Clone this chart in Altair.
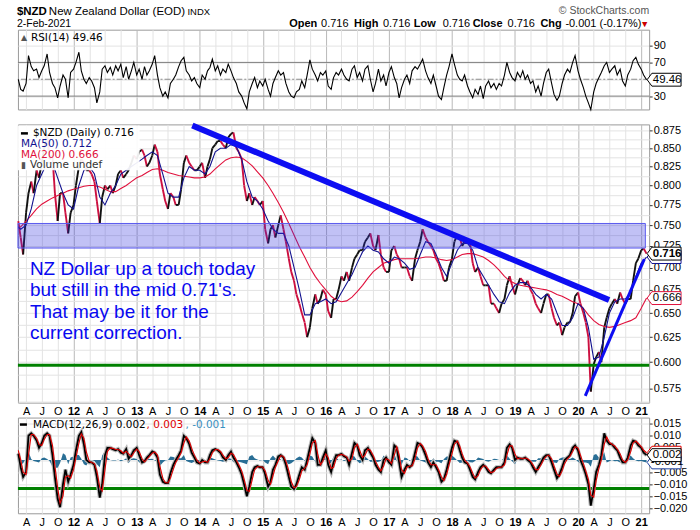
import altair as alt
import numpy as np
import pandas as pd

# ---------------- data ----------------
# $NZD close, semi-monthly from 15-Feb-2011 to 1-Feb-2021
PRICE_2011 = [0.755, 0.735, 0.715, 0.765, 0.79, 0.805, 0.79, 0.82, 0.81, 0.83, 0.85,
              0.87, 0.835, 0.84, 0.79, 0.755, 0.79, 0.79, 0.765, 0.74, 0.765]
PRICE_2012 = [0.775, 0.80, 0.825, 0.835, 0.83, 0.82, 0.82, 0.815, 0.805, 0.78, 0.752, 0.785,
              0.80, 0.795, 0.80, 0.79, 0.80, 0.815, 0.82, 0.81, 0.815, 0.82, 0.83, 0.84]
PRICE_2013 = [0.835, 0.845, 0.848, 0.84, 0.825, 0.83, 0.84, 0.855, 0.845, 0.815, 0.795, 0.78,
              0.77, 0.79, 0.785, 0.775, 0.775, 0.795, 0.83, 0.84, 0.83, 0.825, 0.82, 0.82]
PRICE_2014 = [0.825, 0.83, 0.81, 0.825, 0.835, 0.85, 0.855, 0.86, 0.86, 0.855, 0.85, 0.865,
              0.87, 0.872, 0.85, 0.845, 0.835, 0.80, 0.78, 0.79, 0.775, 0.785, 0.78, 0.775]
PRICE_2015 = [0.78, 0.745, 0.728, 0.745, 0.75, 0.735, 0.75, 0.762, 0.745, 0.73, 0.71, 0.695,
              0.685, 0.67, 0.66, 0.65, 0.64, 0.625, 0.635, 0.655, 0.67, 0.66, 0.665, 0.675]
PRICE_2016 = [0.67, 0.652, 0.645, 0.665, 0.665, 0.675, 0.69, 0.685, 0.695, 0.685, 0.70, 0.71,
              0.715, 0.72, 0.72, 0.73, 0.735, 0.74, 0.725, 0.72, 0.738, 0.715, 0.70, 0.695]
PRICE_2017 = [0.695, 0.72, 0.725, 0.715, 0.71, 0.70, 0.70, 0.70, 0.69, 0.685, 0.71, 0.72,
              0.73, 0.745, 0.735, 0.73, 0.725, 0.72, 0.71, 0.705, 0.695, 0.685, 0.685, 0.70]
PRICE_2018 = [0.71, 0.73, 0.738, 0.735, 0.725, 0.73, 0.728, 0.73, 0.705, 0.695, 0.70, 0.69,
              0.68, 0.68, 0.68, 0.66, 0.66, 0.655, 0.65, 0.66, 0.665, 0.68, 0.69, 0.68]
PRICE_2019 = [0.67, 0.68, 0.688, 0.685, 0.68, 0.685, 0.675, 0.67, 0.66, 0.655, 0.65, 0.66,
              0.67, 0.67, 0.655, 0.645, 0.637, 0.64, 0.627, 0.635, 0.64, 0.64, 0.65, 0.668]
PRICE_2020 = [0.672, 0.66, 0.65, 0.64, 0.625, 0.572, 0.598, 0.605, 0.61, 0.60, 0.635, 0.645,
              0.655, 0.66, 0.665, 0.66, 0.672, 0.665, 0.66, 0.665, 0.665, 0.685, 0.705, 0.71]
PRICE_2021 = [0.72, 0.722, 0.716]
PRICE = (PRICE_2011 + PRICE_2012 + PRICE_2013 + PRICE_2014 + PRICE_2015 + PRICE_2016
         + PRICE_2017 + PRICE_2018 + PRICE_2019 + PRICE_2020 + PRICE_2021)

# moving averages, monthly (1st of month) Feb-2011 .. Feb-2021
MA50 = [0.75, 0.745, 0.75, 0.77, 0.80, 0.815, 0.83, 0.83, 0.81, 0.79, 0.775,
        0.77, 0.80, 0.82, 0.825, 0.815, 0.785, 0.775, 0.79, 0.80, 0.815, 0.82, 0.825,
        0.83, 0.835, 0.84, 0.845, 0.84, 0.815, 0.79, 0.785, 0.785, 0.81, 0.825, 0.82,
        0.82, 0.815, 0.825, 0.845, 0.85, 0.85, 0.855, 0.852, 0.835, 0.805, 0.785, 0.78,
        0.77, 0.755, 0.745, 0.74, 0.74, 0.725, 0.70, 0.675, 0.648, 0.648, 0.66, 0.662,
        0.665, 0.66, 0.662, 0.672, 0.682, 0.692, 0.705, 0.718, 0.725, 0.72, 0.718, 0.71,
        0.705, 0.712, 0.71, 0.705, 0.698, 0.70, 0.715, 0.73, 0.728, 0.715, 0.70, 0.69,
        0.705, 0.72, 0.728, 0.728, 0.72, 0.70, 0.69, 0.68, 0.67, 0.662, 0.66, 0.672,
        0.68, 0.683, 0.683, 0.678, 0.67, 0.665, 0.67, 0.665, 0.65, 0.637, 0.637, 0.645,
        0.66, 0.655, 0.635, 0.603, 0.605, 0.625, 0.65, 0.662, 0.665, 0.665, 0.672, 0.69,
        0.705, 0.712]
MA200 = [0.745, 0.748, 0.755, 0.762, 0.77, 0.776, 0.78, 0.784, 0.787, 0.79, 0.793,
         0.795, 0.797, 0.799, 0.80, 0.80, 0.798, 0.795, 0.792, 0.792, 0.796, 0.80, 0.805,
         0.81, 0.813, 0.817, 0.821, 0.822, 0.82, 0.817, 0.815, 0.813, 0.812, 0.811, 0.81,
         0.81, 0.811, 0.815, 0.822, 0.828, 0.834, 0.837, 0.838, 0.837, 0.832, 0.826, 0.818,
         0.81, 0.80, 0.79, 0.778, 0.766, 0.752, 0.738, 0.724, 0.712, 0.70, 0.69, 0.682,
         0.675, 0.668, 0.664, 0.662, 0.663, 0.667, 0.673, 0.68, 0.688, 0.695, 0.70, 0.705,
         0.707, 0.709, 0.71, 0.71, 0.71, 0.71, 0.711, 0.712, 0.712, 0.711, 0.709, 0.708,
         0.709, 0.712, 0.715, 0.716, 0.716, 0.714, 0.712, 0.708, 0.703, 0.697, 0.69, 0.685,
         0.682, 0.68, 0.679, 0.678, 0.677, 0.676, 0.675, 0.673, 0.67, 0.668, 0.665, 0.662,
         0.66, 0.655, 0.648, 0.642, 0.638, 0.636, 0.635, 0.636, 0.638, 0.64, 0.642, 0.645,
         0.655, 0.666]

# RSI(14), semi-monthly
RSI = [50, 38, 36, 45, 78, 65, 60, 62, 52, 60, 66, 80, 58, 45, 40, 28, 42, 55, 50, 28,
       58, 62, 70, 82, 60, 50, 45, 52, 48, 40, 22, 35, 62, 66, 58, 64, 55, 66, 60, 68,
       52, 65, 50, 60, 70, 55, 62, 50, 65, 55, 60, 68, 78, 55, 40, 30, 35, 28, 45, 50,
       55, 65, 72, 76, 60, 55, 48, 52, 45, 40, 55, 50, 60, 64, 74, 60, 66, 55, 62, 58,
       68, 60, 52, 45, 35, 30, 22, 15, 35, 45, 52, 40, 48, 42, 50, 38, 30, 45, 52, 60,
       55, 58, 45, 35, 30, 28, 35, 38, 48, 40, 55, 73, 62, 55, 48, 58, 55, 60, 42, 38,
       52, 58, 55, 62, 55, 50, 48, 62, 66, 52, 58, 48, 62, 66, 50, 35, 45, 62, 48, 55,
       42, 58, 65, 52, 45, 28, 40, 50, 55, 45, 60, 65, 62, 68, 74, 60, 52, 45, 55, 42,
       30, 26, 40, 55, 65, 80, 68, 55, 50, 48, 55, 42, 35, 28, 38, 32, 42, 27, 42, 48,
       40, 45, 38, 45, 42, 55, 70, 58, 52, 48, 58, 52, 60, 50, 55, 45, 48, 35, 42, 30,
       45, 58, 62, 45, 32, 25, 30, 45, 55, 62, 58, 70, 78, 60, 50, 40, 30, 22, 14, 35,
       45, 52, 58, 66, 70, 58, 62, 66, 55, 62, 48, 42, 55, 62, 72, 76, 68, 62, 55, 49.46]

# MACD(12,26,9): line, signal, histogram, semi-monthly
MACD = [0.0026, -0.003, -0.007, -0.005, 0.010, 0.011, 0.010, 0.008, 0.005, 0.007,
        0.010, 0.011, 0.010, 0.002, -0.007, -0.016, -0.0195, -0.010, -0.004, -0.009,
        -0.006, -0.002, 0.004, 0.010, 0.0115, 0.0065, 0.000, -0.001, -0.001, -0.002,
        -0.007, -0.0155, -0.010, 0.002, 0.005, 0.005, 0.0045, 0.004, 0.0045, 0.003,
        0.0026, 0.0045, 0.0005, 0.002, 0.004, 0.005, 0.002, -0.001, -0.0005, 0.001,
        0.002, 0.0035, 0.003, 0.001, -0.006, -0.009, -0.0095, -0.0095, -0.0055, -0.002,
        0.000, 0.002, 0.004, 0.010, 0.009, 0.0065, 0.003, 0.001, -0.001, -0.0015,
        0.000, -0.001, -0.001, 0.002, 0.004, 0.0045, 0.004, 0.003, 0.001, 0.000,
        0.002, 0.0035, 0.001, -0.001, -0.003, -0.006, -0.010, -0.015, -0.011, -0.005,
        -0.003, -0.0025, -0.003, -0.003, -0.006, -0.011, -0.009, -0.004, -0.002, 0.0015,
        0.002, 0.001, -0.002, -0.007, -0.011, -0.012, -0.010, -0.006, -0.003, -0.004,
        0.000, 0.005, 0.009, 0.007, -0.002, -0.002, 0.001, 0.004, -0.002, -0.005,
        -0.001, 0.002, 0.002, 0.0025, 0.0015, 0.001, -0.002, 0.003, 0.007, 0.006,
        0.002, 0.000, 0.004, 0.005, 0.003, 0.001, -0.002, -0.004, -0.005, 0.000,
        0.001, -0.001, -0.002, 0.006, 0.005, -0.001, -0.007, -0.004, -0.002, -0.003,
        -0.002, 0.003, 0.007, 0.0065, 0.005, 0.002, -0.001, -0.003, -0.001, -0.003,
        -0.005, -0.009, -0.008, -0.004, 0.000, 0.005, 0.008, 0.0075, 0.004, 0.001,
        -0.001, -0.0015, -0.004, -0.007, -0.008, -0.005, -0.003, -0.002, -0.003, -0.005,
        -0.0055, -0.004, -0.003, -0.003, -0.003, -0.001, 0.005, 0.0065, 0.005, 0.000,
        0.001, 0.0005, 0.0005, 0.001, 0.000, -0.001, -0.003, -0.005, -0.003, -0.001,
        0.001, 0.002, 0.002, -0.001, -0.004, -0.0075, -0.006, -0.003, 0.000, 0.001,
        0.002, 0.005, 0.006, 0.004, 0.000, -0.003, -0.006, -0.010, -0.0188, -0.012,
        -0.005, -0.002, 0.002, 0.011, 0.008, 0.0065, 0.0065, 0.005, 0.004, 0.001,
        -0.001, -0.001, 0.001, 0.006, 0.008, 0.0075, 0.006, 0.005, 0.003, 0.002]
SIGNAL = [0.004, 0.000, -0.005, -0.006, 0.002, 0.0105, 0.0105, 0.009, 0.0065, 0.006,
          0.0085, 0.0105, 0.0105, 0.006, -0.0025, -0.0115, -0.0178, -0.0148, -0.007, -0.0065,
          -0.0075, -0.004, 0.001, 0.007, 0.0108, 0.009, 0.0033, -0.0005, -0.001, -0.0015,
          -0.0045, -0.0113, -0.0128, -0.004, 0.0035, 0.005, 0.0048, 0.0043, 0.0043, 0.0038,
          0.0028, 0.0036, 0.0025, 0.0013, 0.003, 0.0045, 0.0035, 0.0005, -0.0008, 0.0003,
          0.0015, 0.0028, 0.0033, 0.002, -0.0025, -0.0075, -0.0093, -0.0095, -0.0075, -0.0038,
          -0.001, 0.001, 0.003, 0.007, 0.0095, 0.0078, 0.0048, 0.002, 0.000, -0.0013,
          -0.0008, -0.0005, -0.001, 0.0005, 0.003, 0.0043, 0.0043, 0.0035, 0.002, 0.0005,
          0.001, 0.0028, 0.0023, 0.000, -0.002, -0.0045, -0.008, -0.0125, -0.013, -0.008,
          -0.004, -0.0028, -0.0028, -0.003, -0.0045, -0.0085, -0.010, -0.0065, -0.003, -0.0003,
          0.0018, 0.0015, -0.0005, -0.0045, -0.009, -0.0115, -0.011, -0.008, -0.0045, -0.0035,
          -0.002, 0.0025, 0.007, 0.008, 0.0025, -0.002, -0.0005, 0.0025, 0.001, -0.0035,
          -0.003, 0.0005, 0.002, 0.0023, 0.002, 0.0013, -0.0005, 0.0005, 0.005, 0.0065,
          0.004, 0.001, 0.002, 0.0045, 0.004, 0.002, -0.0005, -0.003, -0.0045, -0.0025,
          0.0005, 0.000, -0.0015, 0.002, 0.0055, 0.002, -0.004, -0.0055, -0.003, -0.0025,
          -0.0025, 0.0005, 0.005, 0.0068, 0.0058, 0.0035, 0.0005, -0.002, -0.002, -0.002,
          -0.004, -0.007, -0.0085, -0.006, -0.002, 0.0025, 0.0065, 0.0078, 0.0058, 0.0025,
          0.000, -0.0013, -0.0028, -0.0055, -0.0075, -0.0065, -0.004, -0.0025, -0.0025, -0.004,
          -0.0053, -0.0048, -0.0035, -0.003, -0.003, -0.002, 0.002, 0.0058, 0.0058, 0.0025,
          0.0005, 0.0008, 0.0005, 0.0008, 0.0005, -0.0005, -0.002, -0.004, -0.004, -0.002,
          0.000, 0.0015, 0.002, 0.0005, -0.0025, -0.0058, -0.0068, -0.0045, -0.0015, 0.0005,
          0.0015, 0.0035, 0.0055, 0.005, 0.002, -0.0015, -0.0045, -0.008, -0.0144, -0.0154,
          -0.0085, -0.0035, 0.000, 0.0065, 0.0095, 0.0073, 0.0065, 0.0058, 0.0045, 0.0025,
          0.000, -0.001, 0.000, 0.0035, 0.007, 0.0078, 0.0068, 0.0055, 0.004, 0.003]
HIST = [-0.001, -0.002, -0.0014, 0.0007, 0.0035, 0.0004, -0.0004, -0.0007, -0.001, 0.0007,
        0.001, 0.0004, -0.0004, -0.0028, -0.0032, -0.0032, -0.0012, 0.0028, 0.0021, -0.0018,
        0.001, 0.0014, 0.0021, 0.0021, 0.0005, -0.0018, -0.0023, -0.0004, 0.0, -0.0004,
        -0.0018, -0.003, 0.0019, 0.0035, 0.001, 0.0, -0.0002, -0.0002, 0.0002, -0.0005,
        -0.0001, 0.0007, -0.0014, 0.0005, 0.0007, 0.0004, -0.001, -0.001, 0.0002, 0.0005,
        0.0004, 0.0005, -0.0002, -0.0007, -0.0025, -0.001, -0.0002, 0.0, 0.0014, 0.0012,
        0.0007, 0.0007, 0.0007, 0.0021, -0.0004, -0.0009, -0.0012, -0.0007, -0.0007, -0.0002,
        0.0005, -0.0004, 0.0, 0.001, 0.0007, 0.0002, -0.0002, -0.0004, -0.0007, -0.0004,
        0.0007, 0.0005, -0.0009, -0.0007, -0.0007, -0.001, -0.0014, -0.0018, 0.0014, 0.0021,
        0.0007, 0.0002, -0.0002, 0.0, -0.001, -0.0018, 0.0007, 0.0018, 0.0007, 0.0012,
        0.0002, -0.0004, -0.001, -0.0018, -0.0014, -0.0004, 0.0007, 0.0014, 0.001, -0.0004,
        0.0014, 0.0018, 0.0014, -0.0007, -0.0032, 0.0, 0.001, 0.001, -0.0021, -0.001,
        0.0014, 0.001, 0.0, 0.0002, -0.0004, -0.0002, -0.001, 0.0018, 0.0014, -0.0004,
        -0.0014, -0.0007, 0.0014, 0.0004, -0.0007, -0.0007, -0.001, -0.0007, -0.0004, 0.0018,
        0.0004, -0.0007, -0.0004, 0.0028, -0.0004, -0.0021, -0.0021, 0.001, 0.0007, -0.0004,
        0.0004, 0.0018, 0.0014, -0.0002, -0.0005, -0.001, -0.001, -0.0007, 0.0007, -0.0007,
        -0.0007, -0.0014, 0.0004, 0.0014, 0.0014, 0.0018, 0.001, -0.0002, -0.0012, -0.001,
        -0.0007, -0.0002, -0.0009, -0.001, -0.0004, 0.001, 0.0007, 0.0004, -0.0004, -0.0007,
        -0.0002, 0.0005, 0.0004, 0.0, 0.0, 0.0007, 0.0021, 0.0005, -0.0005, -0.0018,
        0.0004, -0.0002, 0.0, 0.0002, -0.0004, -0.0004, -0.0007, -0.0007, 0.0007, 0.0007,
        0.0007, 0.0004, 0.0, -0.001, -0.001, -0.0012, 0.0005, 0.001, 0.001, 0.0004,
        0.0004, 0.001, 0.0004, -0.0007, -0.0014, -0.001, -0.001, -0.0014, -0.0028, 0.0021,
        0.0025, 0.001, 0.0014, 0.0032, -0.001, -0.0005, 0.0, -0.0005, -0.0004, -0.001,
        -0.0007, 0.0, 0.0007, 0.0018, 0.0007, -0.0002, -0.0005, -0.0004, -0.0007, -0.001]

# annotations
SUPPORT_PRICE = [0.597]
SUPPORT_MACD = [-0.0118]
RSI_LEVELS = [70, 30]
RSI_MID = [50]
BAND_START, BAND_END = ["2011-02-13"], ["2021-01-25"]
BAND_LO, BAND_HI = [0.7225], [0.752]
DOWN_DATES, DOWN_PRICES = ["2013-11-19", "2020-06-29"], [0.882, 0.664]
UP_DATES, UP_PRICES = ["2020-02-12", "2021-01-19"], [0.568, 0.7097]
NOTE_LINES = ["NZ Dollar up a touch today", "but still in the mid 0.71's.",
              "That may be it for the", "current correction."]

# axis tick values
MAIN_GRID = [0.5625, 0.575, 0.5875, 0.6, 0.6125, 0.625, 0.6375, 0.65, 0.6625, 0.675,
             0.6875, 0.7, 0.7125, 0.725, 0.7375, 0.75, 0.7625, 0.775, 0.7875, 0.8,
             0.8125, 0.825, 0.8375, 0.85, 0.8625, 0.875]
MACD_TICKS = [-0.02, -0.015, -0.01, -0.005, 0.0, 0.005, 0.01, 0.015]
RSI_TICKS = [30, 50, 70, 90]
QUARTERS = pd.date_range("2011-04-01", "2021-01-01", freq="QS")

# ---------------- styling / layout ----------------
SANS = "Liberation Sans"
VERD = "DejaVu Sans"
W = 633
H_RSI, H_MAIN, H_MACD = 80, 279, 96
RED = "#cc1040"
MA200_C = "#e0103c"
NAVY = "#12128f"
TEAL = "#2a6f96"
BLUE = "#0d0df2"
GREEN = "#008000"
TAG_PATH = "M -1 0 L -0.72 -0.38 L 1 -0.38 L 1 0.38 L -0.72 0.38 Z"

X_DOMAIN = [alt.DateTime(year=2011, month=2, date=13), alt.DateTime(year=2021, month=2, date=16)]
X_VALUES = [alt.DateTime(year=int(d.year), month=int(d.month), date=1) for d in QUARTERS]
IS_YEAR = "month(datum.value) == 0"
ONE = pd.DataFrame({"k": [0]})


def x_enc(field, labels):
    return alt.X(field, type="temporal", scale=alt.Scale(domain=X_DOMAIN),
                 axis=alt.Axis(values=X_VALUES, labels=labels, ticks=False, domain=False, grid=True,
                               gridColor={"condition": {"test": IS_YEAR, "value": "#b9b9b9"},
                                          "value": "#e3e3e3"},
                               labelExpr=("month(datum.value) == 0 ? timeFormat(datum.value, '%y') : "
                                          "month(datum.value) == 3 ? 'A' : month(datum.value) == 6 ? 'J' : 'O'"),
                               labelFontWeight={"condition": {"test": IS_YEAR, "value": "bold"},
                                                "value": "normal"},
                               labelFont=SANS, labelFontSize=11, labelColor="black", labelPadding=3,
                               labelOverlap=False, labelFlush=False, title=None))


def y_common(values, **kw):
    return alt.Axis(orient="right", values=values, grid=True, gridColor="#e3e3e3", domain=False,
                    tickSize=3, tickColor="#333333", labelFont=SANS, labelFontSize=11,
                    labelColor="black", labelPadding=1, labelOverlap=False, title=None, **kw)


def y_main(field):
    cond = "round(datum.value*400) % 10 == 0"
    return alt.Y(field, type="quantitative",
                 scale=alt.Scale(type="log", domain=[0.5618, 0.8836], nice=False, zero=False),
                 axis=y_common(MAIN_GRID,
                               labelExpr=cond + " ? format(datum.value, '.3f') : ''",
                               tickOpacity={"condition": {"test": cond, "value": 1}, "value": 0}))


def y_rsi(field):
    # the 50 label sits under the RSI value tag in the reference
    return alt.Y(field, type="quantitative",
                 scale=alt.Scale(domain=[14.2, 108.8], nice=False, zero=False),
                 axis=y_common(RSI_TICKS, labelExpr="datum.value == 50 ? '' : datum.label"))


def y_macd(field):
    # the 0.000 label sits under the MACD value tags in the reference
    return alt.Y(field, type="quantitative",
                 scale=alt.Scale(domain=[-0.022, 0.0175], nice=False, zero=False),
                 axis=y_common(MACD_TICKS, format=".3f",
                               labelExpr="abs(datum.value) < 0.001 ? '' : datum.label"))


def text_at(txt, x, y, size=11, weight="normal", color="black", font=SANS,
            align="left", baseline="alphabetic"):
    return alt.Chart(ONE).mark_text(text=txt, fontSize=size, fontWeight=weight, color=color,
                                    font=font, align=align, baseline=baseline).encode(
        x=alt.value(x), y=alt.value(y))


def tag(value, label, color, yfn, bold=False, show_text=True):
    d = pd.DataFrame({"v": [value], "t": [label]})
    box = alt.Chart(d).mark_point(shape=TAG_PATH, size=1156, filled=True, fill="white",
                                  stroke=color, strokeWidth=1, opacity=1).encode(
        x=alt.value(648), y=yfn("v"))
    out = [box]
    if show_text:
        out.append(alt.Chart(d).mark_text(font=SANS, fontSize=11.5, fontWeight="bold" if bold else "normal",
                                          color="black", align="center", baseline="middle").encode(
            x=alt.value(651), y=yfn("v"), text="t:N"))
    return out


# ---------------- frames ----------------
dates = pd.date_range("2011-02-15", periods=len(PRICE), freq="SMS")
pdf = pd.DataFrame({"date": dates, "price": PRICE})
pdf["next_date"] = pdf["date"].shift(-1)
pdf["next_price"] = pdf["price"].shift(-1)
seg = pdf.dropna().copy()
seg["dir"] = np.where(seg["next_price"] >= seg["price"], "up", "down")

mdates = pd.date_range("2011-02-01", periods=len(MA50), freq="MS")
ma_df = pd.DataFrame({"date": mdates, "ma50": MA50, "ma200": MA200})
rsi_df = pd.DataFrame({"date": pd.date_range("2011-02-15", periods=len(RSI), freq="SMS"), "rsi": RSI})
macd_df = pd.DataFrame({"date": pd.date_range("2011-02-15", periods=len(MACD), freq="SMS"),
                        "macd": MACD, "signal": SIGNAL, "hist": HIST})
macd_df["zero"] = 0.0

# ---------------- RSI panel ----------------
rsi_layers = [
    alt.Chart(ONE).mark_rect(opacity=0).encode(x=alt.value(-17), x2=alt.value(683),
                                               y=alt.value(-28), y2=alt.value(502)),
    alt.Chart(pd.DataFrame({"v": RSI_LEVELS})).mark_rule(color="#7d7d7d", strokeWidth=1).encode(y=y_rsi("v")),
    alt.Chart(pd.DataFrame({"v": RSI_MID})).mark_rule(color="#8a8a8a", strokeWidth=1,
                                                      strokeDash=[6, 2, 2, 2]).encode(y=y_rsi("v")),
    alt.Chart(rsi_df).mark_line(color="black", strokeWidth=1.1).encode(x=x_enc("date", False), y=y_rsi("rsi")),
    text_at("▲", 3, 8, size=8, color="#555555", font=VERD, baseline="middle"),
    text_at(f"RSI(14) {RSI[-1]:.2f}", 13, 8, size=10.5, font=VERD, baseline="middle"),
    # header
    text_at("$NZD", -1, -15, size=11.5, weight="bold"),
    text_at("New Zealand Dollar (EOD)", 31, -15, size=11.5),
    text_at("INDX", 170, -15, size=9.5),
    text_at("2-Feb-2021", -1, -3, size=10.5),
    text_at("© StockCharts.com", 633, -16, size=10.5, color="#555555", align="right"),
]
for txt, xa, wt, col in [("Open", 289, "bold", "black"), ("0.716", 321, "normal", "black"),
                         ("High", 354, "bold", "black"), ("0.716", 383, "normal", "black"),
                         ("Low", 414, "bold", "black"), ("0.716", 443, "normal", "black"),
                         ("Close", 473, "bold", "black"), ("0.716", 508, "normal", "black"),
                         ("Chg", 541, "bold", "black"), ("-0.001 (-0.17%)", 566, "normal", "black"),
                         ("▼", 641, "normal", "#cc0000")]:
    rsi_layers.append(text_at(txt, xa - 17, -2.5, size=11 if txt != "▼" else 9, weight=wt, color=col))
rsi_layers += tag(RSI[-1], f"{RSI[-1]:.2f}", "black", y_rsi)
rsi_chart = alt.layer(*rsi_layers).properties(width=W, height=H_RSI)

# ---------------- main panel ----------------
main_layers = [
    alt.Chart(seg).mark_rule(strokeWidth=1.9).encode(
        x=x_enc("date", True), x2=alt.X2("next_date"), y=y_main("price"), y2=alt.Y2("next_price"),
        color=alt.Color("dir:N", scale=alt.Scale(domain=["up", "down"], range=["#111111", RED]), legend=None)),
    alt.Chart(ma_df).mark_line(color=MA200_C, strokeWidth=1.1, clip=True).encode(
        x=x_enc("date", True), y=y_main("ma200")),
    alt.Chart(ma_df).mark_line(color=NAVY, strokeWidth=1.1, clip=True).encode(
        x=x_enc("date", True), y=y_main("ma50")),
    alt.Chart(pd.DataFrame({"s": BAND_START, "e": BAND_END, "lo": BAND_LO, "hi": BAND_HI})).mark_rect(
        fill="#3333dd", fillOpacity=0.3, stroke="#5a5aee", strokeWidth=1).encode(
        x=x_enc("s", True), x2=alt.X2("e"), y=y_main("lo"), y2=alt.Y2("hi")),
    alt.Chart(pd.DataFrame({"v": SUPPORT_PRICE})).mark_rule(color=GREEN, strokeWidth=3).encode(y=y_main("v")),
    alt.Chart(pd.DataFrame({"date": DOWN_DATES, "price": DOWN_PRICES})).mark_line(
        color=BLUE, strokeWidth=6, strokeCap="butt").encode(x=x_enc("date", True), y=y_main("price")),
    alt.Chart(pd.DataFrame({"date": UP_DATES, "price": UP_PRICES})).mark_line(
        color=BLUE, strokeWidth=3, strokeCap="butt").encode(x=x_enc("date", True), y=y_main("price")),
    # legend
    alt.Chart(ONE).mark_rect(fill="white", opacity=0.92).encode(
        x=alt.value(0), x2=alt.value(122), y=alt.value(1), y2=alt.value(46)),
    alt.Chart(ONE).mark_rule(color="black", strokeWidth=2.5).encode(
        x=alt.value(3), x2=alt.value(10), y=alt.value(9)),
    text_at(f"$NZD (Daily) {PRICE[-1]:.3f}", 15, 9, size=10.5, font=VERD, baseline="middle"),
    text_at(f"MA(50) {MA50[-1]:.3f}", 3, 20, size=10.5, font=VERD, color=NAVY, baseline="middle"),
    text_at(f"MA(200) {MA200[-1]:.3f}", 3, 31, size=10.5, font=VERD, color=MA200_C, baseline="middle"),
    text_at("▮", 3, 41, size=9, font=VERD, color="#555555", baseline="middle"),
    text_at("Volume undef", 12, 41, size=10.5, font=VERD, color="#333333", baseline="middle"),
    alt.Chart(ONE).mark_text(text=NOTE_LINES, lineHeight=21.5, fontSize=19, font=SANS, color="#0808f0",
                             align="left", baseline="alphabetic").encode(x=alt.value(12), y=alt.value(151)),
]
main_layers += tag(MA50[-1], f"{MA50[-1]:.3f}", NAVY, y_main, show_text=False)
main_layers += tag(MA200[-1], f"{MA200[-1]:.3f}", MA200_C, y_main)
main_layers += tag(PRICE[-1], f"{PRICE[-1]:.3f}", "black", y_main, bold=True)
main_chart = alt.layer(*main_layers).properties(width=W, height=H_MAIN)

# ---------------- MACD panel ----------------
macd_layers = [
    alt.Chart(macd_df).mark_area(color=TEAL, opacity=1).encode(
        x=x_enc("date", True), y=y_macd("hist"), y2=alt.Y2("zero")),
    alt.Chart(pd.DataFrame({"v": SUPPORT_MACD})).mark_rule(color=GREEN, strokeWidth=3).encode(y=y_macd("v")),
    alt.Chart(macd_df).mark_line(color="#b8b8b8", strokeWidth=4).encode(x=x_enc("date", True), y=y_macd("macd")),
    alt.Chart(macd_df).mark_line(color="black", strokeWidth=1.8).encode(x=x_enc("date", True), y=y_macd("macd")),
    alt.Chart(macd_df).mark_line(color="#e00000", strokeWidth=1.1).encode(x=x_enc("date", True), y=y_macd("signal")),
    alt.Chart(ONE).mark_rule(color="black", strokeWidth=2.5).encode(
        x=alt.value(2), x2=alt.value(9), y=alt.value(7)),
    text_at(f"MACD(12,26,9) {MACD[-1]:.3f}", 15, 7, size=10.5, font=VERD, baseline="middle"),
    text_at(f", {SIGNAL[-1]:.3f}", 129, 7, size=10.5, font=VERD, color="#e00000", baseline="middle"),
    text_at(f", {HIST[-1]:.3f}", 168, 7, size=10.5, font=VERD, color="#3a8fc0", baseline="middle"),
]
macd_layers += tag(SIGNAL[-1], f"{SIGNAL[-1]:.3f}", "#e00000", y_macd, show_text=False)
macd_layers += tag(HIST[-1], f"{HIST[-1]:.3f}", "#2040a0", y_macd)
macd_layers += tag(MACD[-1], f"{MACD[-1]:.3f}", "black", y_macd)
macd_chart = alt.layer(*macd_layers).properties(width=W, height=H_MACD)

chart = (alt.vconcat(rsi_chart, main_chart, macd_chart, spacing=15, bounds="flush")
         .properties(padding=0, background="white")
         .configure_view(stroke="#9a9a9a", strokeWidth=1))

chart.save("out.html", embed_options={"renderer": "svg", "actions": False})
